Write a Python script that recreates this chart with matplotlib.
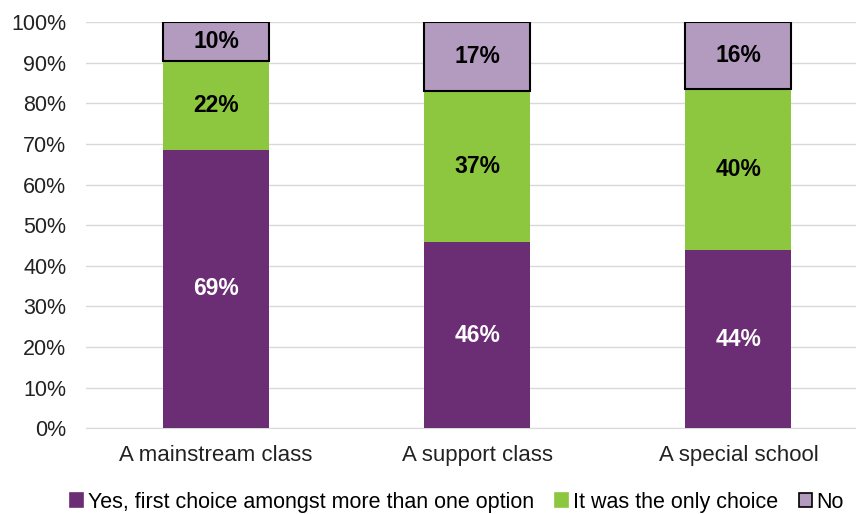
import matplotlib.pyplot as plt
from matplotlib.patches import Patch

plt.rcParams["font.family"] = ["Liberation Sans", "DejaVu Sans"]

categories = ["A mainstream class", "A support class", "A special school"]
first_choice = [68.6, 45.8, 43.8]
only_choice = [21.8, 37.2, 39.8]
no_choice = [9.6, 17.0, 16.4]

series_names = ["Yes, first choice amongst more than one option",
                "It was the only choice", "No"]
colors = ["#6B2D73", "#8DC63F", "#B39BBF"]
label_colors = ["white", "black", "black"]

fig = plt.figure(figsize=(8.56, 5.14), dpi=100)
ax = fig.add_axes([0.1, 0.167, 0.9, 0.79])

x = range(len(categories))
width = 0.406
bottom = [0.0] * len(categories)
for i, values in enumerate([first_choice, only_choice, no_choice]):
    edge = "black" if i == 2 else "none"
    lw = 1.5 if i == 2 else 0
    ax.bar(x, values, width, bottom=bottom, color=colors[i],
           edgecolor=edge, linewidth=lw, zorder=3)
    for xi, b, v in zip(x, bottom, values):
        top = min(b + v, 100)
        ax.text(xi, (b + top) / 2, f"{v:.0f}%", ha="center", va="center",
                fontsize=16.5, fontweight="bold", color=label_colors[i], zorder=4)
    bottom = [b + v for b, v in zip(bottom, values)]

ax.set_xlim(-0.5, 2.45)
ax.set_ylim(0, 100)
ax.set_yticks(range(0, 101, 10))
ax.set_yticklabels([f"{t}%" for t in range(0, 101, 10)], fontsize=15.5, color="#222222")
ax.set_xticks(list(x))
ax.set_xticklabels(categories, fontsize=16, color="#222222")
ax.tick_params(axis="both", length=0)
ax.tick_params(axis="y", pad=14)
ax.tick_params(axis="x", pad=12)
ax.grid(axis="y", color="#D9D9D9", linewidth=1, zorder=0)
for side in ["top", "right", "left"]:
    ax.spines[side].set_visible(False)
ax.spines["bottom"].set_color("#D9D9D9")

handles = [Patch(facecolor=c, edgecolor=("black" if i == 2 else c), linewidth=1.2)
           for i, c in enumerate(colors)]
fig.legend(handles, series_names, loc="lower center", bbox_to_anchor=(0.534, -0.035),
           ncol=3, frameon=False, fontsize=15.5, handlelength=0.6, handleheight=0.6,
           handletextpad=0.2, columnspacing=1.0)

fig.savefig("out.png", dpi=100)
